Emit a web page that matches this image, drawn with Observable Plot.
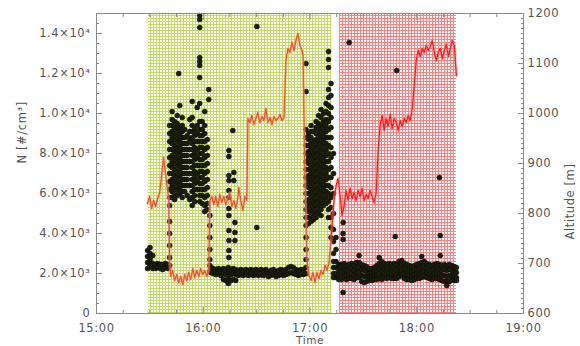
<!DOCTYPE html>
<html><head><meta charset="utf-8">
<script src="https://cdn.jsdelivr.net/npm/d3@7"></script>
<script src="https://cdn.jsdelivr.net/npm/@observablehq/plot@0.6"></script>
<style>
html,body{margin:0;padding:0;background:#fff}
</style></head><body><div id="chart"></div>
<script>
// ---------------- data (time = minutes after 15:00) ----------------
const timeTicks = [0, 60, 120, 180, 240];
const timeLabels = ["15:00", "16:00", "17:00", "18:00", "19:00"];
const timeMinorTicks = [15, 30, 45, 75, 90, 105, 135, 150, 165, 195, 210, 225];
const nTicks = [0, 2000, 4000, 6000, 8000, 10000, 12000, 14000];
const altTicks = [600, 700, 800, 900, 1000, 1100, 1200];

// shaded periods [start, end] in minutes after 15:00
const greenPeriod = [29.1, 132.2];
const redPeriod = [136.5, 202.3];

// altitude (m) vs time, first leg (orange) and second leg (red)
const altitudeOrange = [[28.7,820],[29.9,834],[31.0,810],[32.1,826],[33.2,814],[34.4,830],[35.5,842],[36.6,876],[37.7,912],[38.9,876],[40.0,846],[40.6,826],[41.1,706],[41.7,674],[42.8,686],[43.9,666],[45.1,678],[46.2,662],[47.3,674],[48.5,658],[49.6,678],[50.7,666],[51.8,682],[53.0,668],[54.1,690],[55.2,672],[56.3,686],[57.5,674],[58.6,690],[59.7,678],[60.8,686],[62.0,674],[63.1,686],[63.7,826],[64.8,834],[65.9,818],[67.0,834],[68.2,814],[69.3,838],[70.4,822],[71.6,834],[72.7,818],[73.8,830],[74.9,842],[76.1,814],[77.2,826],[78.3,810],[79.4,830],[80.0,852],[81.1,826],[82.3,806],[83.4,834],[84.5,826],[85.1,990],[86.2,982],[87.3,996],[88.5,978],[89.6,990],[90.7,1002],[91.8,982],[93.0,994],[94.1,986],[95.2,1010],[96.3,982],[97.5,992],[98.6,978],[99.7,994],[100.9,986],[102.0,990],[103.1,998],[104.2,986],[105.4,992],[106.5,1106],[107.6,1130],[108.7,1122],[109.9,1142],[111.0,1126],[112.1,1146],[113.2,1160],[114.4,1136],[115.5,1126],[116.1,1116],[117.2,866],[118.3,706],[119.4,676],[120.6,666],[121.7,682],[122.8,662],[123.9,682],[125.1,670],[126.2,686],[127.3,678],[128.5,696],[129.6,686],[130.7,702],[131.8,746]];
const altitudeRed = [[131.8,746],[132.4,776],[133.5,826],[134.7,856],[135.8,870],[136.9,836],[138.0,796],[139.2,816],[140.3,846],[141.4,826],[142.5,850],[143.7,830],[144.8,842],[145.9,826],[147.0,846],[148.2,834],[149.3,850],[150.4,826],[151.6,838],[152.7,830],[153.8,846],[154.9,834],[156.1,822],[157.2,842],[158.3,926],[159.4,976],[160.6,996],[161.7,966],[162.8,990],[163.9,974],[165.1,998],[166.2,970],[167.3,990],[168.5,982],[169.6,966],[170.7,986],[171.8,974],[173.0,990],[174.1,982],[175.2,996],[176.3,986],[177.5,1010],[178.6,1056],[179.7,1106],[180.9,1126],[182.0,1114],[183.1,1130],[184.2,1122],[185.4,1136],[186.5,1126],[187.6,1134],[188.7,1146],[189.9,1122],[191.0,1106],[192.1,1122],[193.2,1130],[194.4,1110],[195.5,1126],[196.6,1138],[197.8,1114],[198.9,1130],[200.0,1146],[201.1,1136],[202.3,1076]];

// particle number concentration N (10^3 #/cm^3), grouped by sample time
const nByTime = [
 [28.7,[3.15,2.85,2.55,2.25]],[30.1,[3.3,3.0,2.7,2.4]],[31.6,[2.9,2.5,2.25]],[33.0,[2.45,2.25]],[34.4,[2.5,2.3]],[35.8,[2.45,2.25]],[37.2,[2.45,2.2]],[38.6,[2.5,2.3]],[40.0,[2.45,2.25]],
 [41.1,[9.4,9.0,8.6,8.2,7.8,7.4,7.0,6.6,6.2,5.8,5.4,4.6,4.0,3.4,2.8,2.4]],
 [42.5,[10.1,9.7,9.4,9.1,8.8,8.5,8.2,7.9,7.6,7.3,7.0,6.7,6.4,6.1,5.8]],
 [43.9,[9.6,9.3,9.0,8.7,8.4,8.1,7.8,7.5,7.2,6.9,6.6,6.3,6.0,5.7]],
 [45.4,[9.9,9.5,9.2,8.9,8.6,8.3,8.0,7.7,7.4,7.1,6.8,6.5,6.2,5.9]],
 [46.2,[12.0]],
 [46.8,[10.4,9.3,9.0,8.7,8.4,8.1,7.8,7.5,7.2,6.9,6.6,6.3,6.0]],
 [48.2,[9.8,9.4,9.1,8.8,8.5,8.2,7.9,7.6,7.3,7.0,6.7,6.4,6.1,5.8]],
 [49.6,[9.2,8.8,8.5,8.2,7.9,7.6,7.3,7.0,6.7,6.4,6.1]],
 [51.0,[8.9,8.5,8.2,7.9,7.6,7.3,7.0,6.7,6.4,5.9]],
 [52.4,[9.7,9.1,8.7,8.2,7.6,7.0,6.4,5.7]],
 [53.8,[10.6,9.8,9.4,9.1,8.8,8.5,8.2,7.9,7.6,7.3,7.0,6.7,6.4,6.1,5.8,5.4]],
 [55.2,[9.2,8.9,8.6,8.3,8.0,7.7,7.4,7.1,6.8,6.5,6.2,5.9,5.6]],
 [56.6,[10.3,9.4,9.0,8.6,8.2,7.8,7.4,7.0,6.6,6.2]],
 [58.0,[14.9,14.7,14.3,12.8,12.6,12.4,11.8,10.5,9.6,9.2,8.9,8.6,8.3,8.0,7.7,7.4,7.1,6.8,6.5,6.2,5.9,5.6]],
 [59.4,[9.6,9.2,8.9,8.6,8.3,8.0,7.7,7.4,7.1,6.8,6.5,6.2,5.9,5.5]],
 [60.8,[10.1,9.4,9.0,8.6,8.2,7.8,7.4,7.0,6.6,6.2,5.8,5.4,5.1]],
 [62.3,[8.7,8.3,7.9,7.5,7.1,6.7,6.3,5.9,5.5,5.2]],
 [63.1,[11.2,10.7]],
 [63.7,[4.9,4.4,3.8,3.2,2.7,2.4,2.1]],
 [64.2,[2.3,2.05]],[65.6,[2.25,2.0]],[67.0,[2.2,1.95]],[68.5,[2.25,2.0]],[69.9,[2.2,1.9]],[71.3,[2.25,2.0,1.7]],[72.7,[2.2,1.95,1.65]],[74.1,[2.3,2.05,1.75,1.5]],[75.5,[2.2,1.95,1.65]],[76.9,[2.25,2.0,1.7]],[78.3,[2.2,1.95,1.65]],[79.7,[2.15,1.9]],
 [81.1,[2.2,1.95]],[82.5,[2.15,1.9]],[83.9,[2.2,1.95]],[85.4,[2.15,1.9]],[86.8,[2.2,1.95]],[88.2,[2.15,1.9]],[89.6,[2.2,1.95]],[91.0,[2.15,1.9]],[92.4,[2.2,1.95]],[93.8,[2.15,1.9]],[95.2,[2.2,1.95]],[96.6,[2.1,1.85]],[98.0,[2.15,1.9]],[99.4,[2.2,1.95]],[100.9,[2.1,1.85]],[102.3,[2.15,1.9]],[103.7,[2.2,1.95]],[105.1,[2.15,1.9]],[106.5,[2.2,1.95]],[107.9,[2.3,2.0]],[109.3,[2.35,2.05]],[110.7,[2.3,2.0]],[112.1,[2.2,1.95]],[113.5,[2.15,1.9]],[114.9,[2.2,1.95]],[116.3,[2.2,1.95]],
 [74.4,[8.15,7.85,6.9,6.65,6.15,5.8,5.25,4.9,4.15,3.65,3.15,2.8]],[76.6,[9.15]],[77.2,[7.05,6.65]],[77.8,[4.55,4.05,3.65]],[90.1,[14.35,4.3]],
 [117.8,[12.5,11.1,9.2,8.8,8.4,8.0,7.6,7.2,6.8,6.4,6.0,5.6,5.2,4.8,4.4,3.8,3.2,2.7,2.3,2.0]],
 [119.2,[9.0,8.7,8.4,8.1,7.8,7.5,7.2,6.9,6.6,6.3,6.0,5.7,5.4,5.1,4.8,4.5]],
 [120.6,[9.4,9.1,8.8,8.5,8.2,7.9,7.6,7.3,7.0,6.7,6.4,6.1,5.8,5.5,5.2,4.9,4.6]],
 [122.0,[9.1,8.6,8.3,8.0,7.7,7.4,7.1,6.8,6.5,6.2,5.9,5.6,5.3,5.0,4.7]],
 [123.4,[9.6,9.3,9.0,8.7,8.4,8.1,7.8,7.5,7.2,6.9,6.6,6.3,6.0,5.7,5.4,5.1,4.8]],
 [124.8,[9.9,9.5,9.2,8.9,8.6,8.3,8.0,7.7,7.4,7.1,6.8,6.5,6.2,5.9,5.6,5.3,5.0]],
 [126.2,[10.2,9.8,9.4,9.1,8.8,8.5,8.2,7.9,7.6,7.3,7.0,6.7,6.4,6.1,5.8,5.5,5.2,4.9]],
 [127.6,[10.0,9.6,9.3,9.0,8.7,8.4,8.1,7.8,7.5,7.2,6.9,6.6,6.3,6.0,5.7,5.4]],
 [129.0,[10.5,10.1,9.7,9.4,9.1,8.8,8.5,8.2,7.9,7.6,7.3,7.0,6.7,6.4,6.1,5.8,5.5]],
 [130.4,[13.1,12.7,12.3,11.2,10.8,10.4,10.0,9.6,9.2,8.8,8.4,8.0,7.6,7.2,6.8,6.4,6.0,5.6,5.2,4.8]],
 [131.8,[11.5,10.9,10.3,9.8,9.3,8.8,8.3,7.8,7.3,6.8,6.3,5.8,5.3,4.8,4.3,3.8]],
 [133.2,[8.0,7.0,6.0,5.0,4.2,3.6,3.0,2.6,2.3,2.0,1.8]],
 [134.6,[3.8,3.2,2.6,2.3,2.0,1.8]],
 [136.1,[2.45,2.2,1.95,1.7]],
 [137.7,[2.45,2.2,1.95,1.7]],[138.6,[4.55,4.0,3.7,1.05]],[139.2,[2.5,2.25,2.0,1.75]],[140.6,[2.4,2.15,1.9,1.7]],[142.0,[13.55,2.45,2.2,1.95,1.75]],[143.4,[2.5,2.25,2.0,1.75]],[144.8,[2.4,2.15,1.9,1.7]],[146.2,[2.55,2.3,2.05,1.8]],[147.6,[2.9,2.55,2.3,2.05,1.8]],[149.0,[2.45,2.2,1.9,1.6]],[150.4,[2.4,2.15,1.85,1.55]],[151.8,[2.35,2.1,1.85,1.6]],[153.2,[2.25,2.0,1.8,1.65]],[154.7,[2.25,2.0,1.8,1.65]],[156.1,[2.3,2.05,1.85,1.7]],[157.5,[2.4,2.15,1.9,1.7]],[158.9,[2.8,2.5,2.25,2.0,1.75]],[160.3,[2.6,2.35,2.1,1.85,1.7]],[161.7,[2.5,2.25,2.0,1.8]],[163.1,[2.45,2.2,1.95,1.75]],[164.5,[2.5,2.25,2.0,1.8]],[165.9,[2.45,2.2,1.95,1.75]],[167.3,[2.5,2.25,2.0,1.75]],[167.9,[3.85]],[168.7,[12.15,2.45,2.2,1.95,1.75]],[170.1,[2.6,2.35,2.1,1.85]],[171.6,[2.65,2.4,2.15,1.9]],[173.0,[2.5,2.25,2.0,1.75]],[174.4,[2.45,2.2,1.95,1.7]],[175.8,[2.4,2.15,1.9,1.7]],[177.2,[2.35,2.1,1.85,1.65]],[178.6,[2.4,2.15,1.9,1.7]],[180.0,[2.45,2.2,1.95,1.75]],[181.4,[2.5,2.25,2.0,1.75]],[182.8,[2.85,2.55,2.3,2.05,1.8]],[184.2,[2.6,2.35,2.1,1.85]],[185.6,[2.5,2.25,2.0,1.8]],[187.1,[2.45,2.2,1.95,1.75]],[188.5,[2.4,2.15,1.9,1.7]],[189.9,[2.45,2.2,1.95,1.75]],[191.3,[2.5,2.25,2.0,1.75]],[192.7,[6.8,2.45,2.2,1.95,1.7]],[193.2,[3.9,2.9]],[194.1,[2.4,2.15,1.9,1.65]],[195.5,[2.45,2.2,1.9,1.6]],[196.9,[2.4,2.15,1.85,1.6,1.4]],[198.3,[2.45,2.2,1.9,1.6]],[199.7,[2.4,2.15,1.9,1.7]],[201.1,[2.35,2.1,1.85,1.65]],[202.3,[2.3,2.05,1.8,1.65]]
];

// ---------------- helpers ----------------
const altToN = a => (a - 600) * 25;   // right axis 600..1200 m onto left 0..15000
const nToAlt = n => n / 25 + 600;
const sup = {3: "\u00B3", 4: "\u2074"};
const fmtN = d => {
  if (d === 0) return "0";
  const e = Math.floor(Math.log10(d));
  return (d / 10 ** e).toFixed(1) + "\u00D710" + sup[e];
};
const nMinorTicks = d3.range(500, 15001, 500).filter(v => v % 2000 !== 0);
const altMinorTicks = d3.range(600, 1201, 10).filter(v => v % 100 !== 0).map(altToN);
const nPoints = nByTime.flatMap(([t, vals]) => vals.map(v => ({t, n: v * 1000})));
const blank = () => "";
const grey = "#8a8a8a";

const chart = Plot.plot({
  width: 580, height: 346,
  marginLeft: 96, marginRight: 57, marginTop: 13, marginBottom: 33,
  style: {fontFamily: "'DejaVu Sans', sans-serif", fontSize: "11.5px", color: "#555", background: "#fff", letterSpacing: "0.6px"},
  x: {domain: [0, 240]},
  y: {domain: [0, 15000]},
  marks: [
    Plot.rect([greenPeriod], {x1: d => d[0], x2: d => d[1], fill: "url(#gridGreen)"}),
    Plot.rect([redPeriod], {x1: d => d[0], x2: d => d[1], fill: "url(#gridRed)"}),
    Plot.dot(nPoints, {x: "t", y: "n", r: 2.5, fill: "#1a1c0c", stroke: "#0d0d05", strokeWidth: 0.5}),
    Plot.line(altitudeOrange, {x: d => d[0], y: d => altToN(d[1]), stroke: "#f7a080", strokeWidth: 3, strokeOpacity: 0.45}),
    Plot.line(altitudeRed, {x: d => d[0], y: d => altToN(d[1]), stroke: "#ff8080", strokeWidth: 3, strokeOpacity: 0.45}),
    Plot.line(altitudeOrange, {x: d => d[0], y: d => altToN(d[1]), stroke: "#f0542c", strokeWidth: 1.3}),
    Plot.line(altitudeRed, {x: d => d[0], y: d => altToN(d[1]), stroke: "#ff1c1c", strokeWidth: 1.3}),
    Plot.frame({stroke: grey}),
    // ticks (inward)
    Plot.axisX(timeTicks, {anchor: "bottom", tickSize: -6, tickFormat: blank, label: null, stroke: grey}),
    Plot.axisX(timeMinorTicks, {anchor: "bottom", tickSize: -3, tickFormat: blank, label: null, stroke: grey}),
    Plot.axisX(timeTicks, {anchor: "top", tickSize: -6, tickFormat: blank, label: null, stroke: grey}),
    Plot.axisX(timeMinorTicks, {anchor: "top", tickSize: -3, tickFormat: blank, label: null, stroke: grey}),
    Plot.axisY(nTicks, {anchor: "left", tickSize: -6, tickFormat: blank, label: null, stroke: grey}),
    Plot.axisY(nMinorTicks, {anchor: "left", tickSize: -3, tickFormat: blank, label: null, stroke: grey}),
    Plot.axisY(altTicks.map(altToN), {anchor: "right", tickSize: -6, tickFormat: blank, label: null, stroke: grey}),
    Plot.axisY(altMinorTicks, {anchor: "right", tickSize: -3, tickFormat: blank, label: null, stroke: grey}),
    // tick labels
    Plot.axisX(timeTicks, {anchor: "bottom", tickSize: 0, tickPadding: 10, tickFormat: d => timeLabels[timeTicks.indexOf(d)], label: null}),
    Plot.axisY(nTicks, {anchor: "left", tickSize: 0, tickPadding: 6, tickFormat: fmtN, label: null}),
    Plot.axisY(altTicks.map(altToN), {anchor: "right", tickSize: 0, tickPadding: 4, tickFormat: d => String(Math.round(nToAlt(d))), label: null}),
    // axis titles
    Plot.text(["N [#/cm\u00B3]"], {frameAnchor: "left", dx: -74, rotate: -90, text: d => d, fontSize: 11.5, fill: "#555"}),
    Plot.text(["Altitude [m]"], {frameAnchor: "right", dx: 47, rotate: -90, text: d => d, fontSize: 11.5, fill: "#555"}),
    Plot.text(["Time"], {frameAnchor: "bottom", dy: 23, lineAnchor: "top", text: d => d, fontSize: 10.5, fill: "#555"})
  ]
});

// grid-hatch patterns for the shaded periods
const defs = d3.select(chart).insert("defs", ":first-child");
function addGrid(id, line) {
  const p = defs.append("pattern").attr("id", id).attr("patternUnits", "userSpaceOnUse").attr("width", 3).attr("height", 3);
  p.append("rect").attr("width", 3).attr("height", 3).attr("fill", "#ffffff");
  p.append("rect").attr("width", 3).attr("height", 1).attr("fill", line);
  p.append("rect").attr("width", 1).attr("height", 3).attr("fill", line);
}
addGrid("gridGreen", "#c0dd62");
addGrid("gridRed", "#ff7f7f");

document.getElementById("chart").append(chart);
</script>
</body></html>
